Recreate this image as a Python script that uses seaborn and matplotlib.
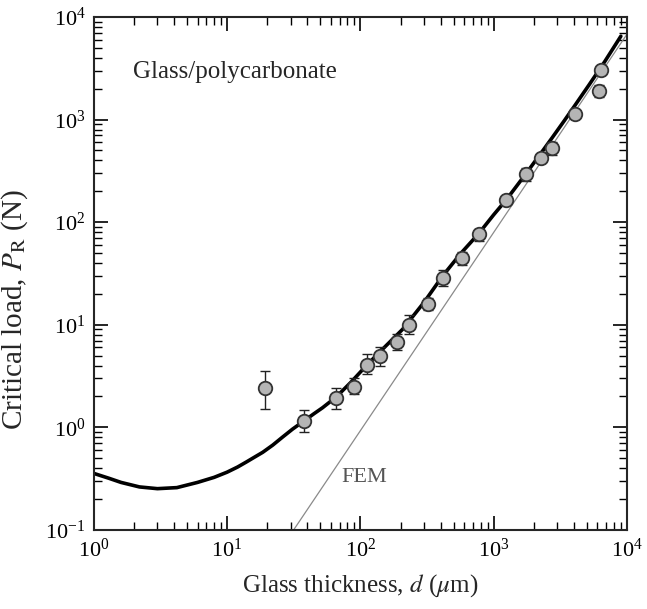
import numpy as np
import pandas as pd
import matplotlib
matplotlib.use("Agg")
import matplotlib.pyplot as plt
import seaborn as sns

# measured points: glass thickness (um), critical load (N), error bar ends
thickness = [19.4, 37.7, 66, 89, 113, 141, 189, 231, 322, 415, 580, 770,
             1242, 1741, 2259, 2744, 4064, 6138, 6442]
load = [2.39, 1.16, 1.94, 2.47, 4.08, 4.9, 6.8, 9.9, 16.0, 28.8, 44.7, 76,
        165, 297, 427, 524, 1122, 1910, 3013]
load_hi = [3.56, 1.46, 2.43, 3.0, 5.13, 6.05, 8.2, 12.5, 18.2, 34, 51, 85,
           178, 340, 450, 601, 1180, 2188, 3150]
load_lo = [1.52, 0.906, 1.52, 2.09, 3.3, 3.98, 5.7, 8.1, 14.0, 24, 38.4, 66,
           152, 251, 405, 454, 1070, 1652, 2880]

# theory curve
curve_d = [1.0, 1.3, 1.6, 2.2, 3.0, 4.2, 6.0, 8.0, 10, 12, 14, 16, 18.5, 22,
           26, 31, 38, 45, 52, 66, 85, 113, 155, 207, 300, 415, 570, 770,
           1000, 1242, 1741, 2300, 2744, 3400, 4064, 5200, 6800, 9000]
curve_p = [0.355, 0.318, 0.29, 0.262, 0.252, 0.258, 0.29, 0.325, 0.365,
           0.41, 0.46, 0.51, 0.57, 0.67, 0.8, 0.96, 1.16, 1.36, 1.55, 1.98,
           2.75, 4.1, 6.2, 9.0, 16.5, 30, 50, 77, 118, 165, 295, 484, 664,
           982, 1371, 2183, 3664, 6500]

# FEM line end points
fem_d = [31.6, 10000]
fem_p = [0.1, 6800]

sns.set_style("ticks")
plt.rcParams["font.family"] = ["Liberation Serif", "DejaVu Serif"]
plt.rcParams["mathtext.fontset"] = "stix"

fig = plt.figure(figsize=(6.47, 6.09), dpi=100)
ax = fig.add_axes([0.145, 0.130, 0.824, 0.842])

ax.set_xscale("log")
ax.set_yscale("log")

sns.lineplot(x=fem_d, y=fem_p, ax=ax, color="#8a8a8a", lw=0.9,
             sort=False, estimator=None)
sns.lineplot(x=curve_d, y=curve_p, ax=ax, color="black", lw=2.6,
             sort=False, estimator=None)

yerr = np.array([np.array(load) - np.array(load_lo),
                 np.array(load_hi) - np.array(load)])
ax.errorbar(thickness, load, yerr=yerr, fmt="none", ecolor="#222222",
            elinewidth=1.0, capsize=3.5, capthick=1.0, zorder=3)
pts = pd.DataFrame({"d": thickness, "P": load})
sns.scatterplot(data=pts, x="d", y="P", ax=ax, s=95, color="#b5b5b5",
                edgecolor="#333333", linewidth=1.3, zorder=4)

ax.set_xlim(1, 1e4)
ax.set_ylim(0.1, 1e4)

ax.tick_params(which="both", direction="in", top=True, right=True,
               labelsize=16, colors="black")
ax.tick_params(which="major", length=10, width=1.2, pad=6)
ax.tick_params(which="minor", length=6, width=1.0)
for sp in ax.spines.values():
    sp.set_linewidth(1.5)

ax.set_xlabel("Glass thickness, $d$ ($\\mu$m)", fontsize=18, labelpad=8)
ax.set_ylabel("Critical load, $P_\\mathrm{R}$ (N)", fontsize=21)
ax.yaxis.set_label_coords(-0.12, 0.43)

ax.text(0.073, 0.892, "Glass/polycarbonate", transform=ax.transAxes,
        fontsize=18, va="center", ha="left")
ax.text(0.508, 0.103, "FEM", transform=ax.transAxes, fontsize=16,
        va="center", ha="center", color="#555555")

fig.savefig("out.png", dpi=100)
